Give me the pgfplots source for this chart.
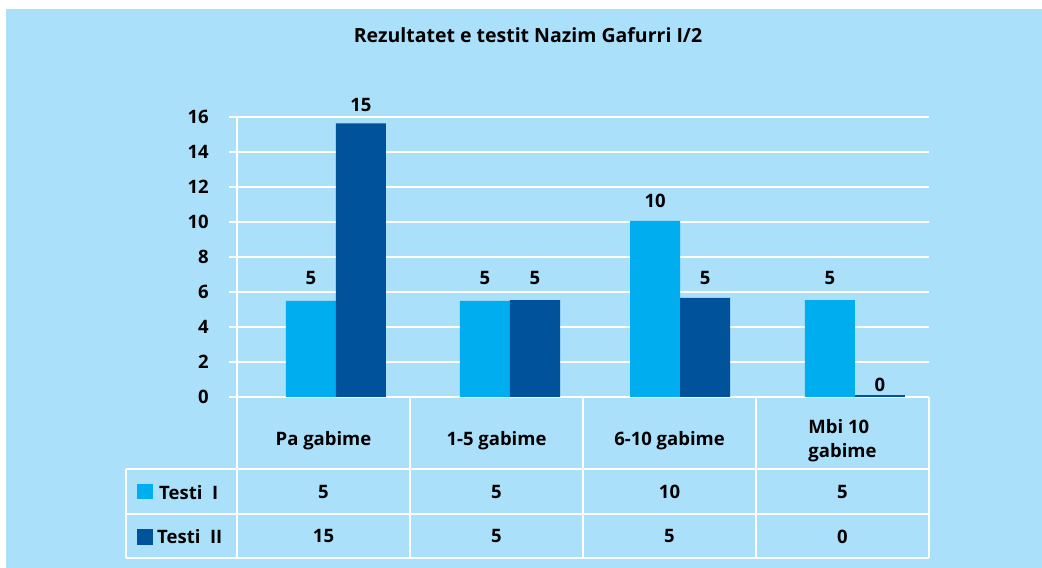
\documentclass[border=0pt]{standalone}
\usepackage{pgfplots}
\pgfplotsset{compat=1.18}
\usepackage{fontspec}
\setmainfont{Open Sans}[Ligatures=NoCommon]
\definecolor{bgblue}{RGB}{170,224,250}
\definecolor{lightbar}{RGB}{0,174,239}
\definecolor{darkbar}{RGB}{0,82,155}
\newcommand{\cf}{\fontsize{18.5bp}{24bp}\selectfont\bfseries}
\begin{document}
\begin{tikzpicture}[font=\cf]
\useasboundingbox (0,0) rectangle (1042bp,568bp);
\fill[bgblue] (6bp,0) rectangle (1042bp,559bp);
\node[anchor=base, inner sep=0pt, font=\fontsize{19.5bp}{24bp}\selectfont\bfseries] at (528bp,525bp) {Rezultatet e testit Nazim Gafurri I/2};
\begin{axis}[
  at={(237bp,171bp)}, anchor=south west,
  scale only axis, width=692bp, height=280bp,
  xmin=0, xmax=4, ymin=0, ymax=16,
  clip=false,
  axis lines*=left,
  axis line style={white, line width=1.6bp},
  ymajorgrids, grid style={white, line width=1.6bp},
  ytick={0,2,...,16},
  xtick={0.5,1.5,2.5,3.5},
  xticklabels={Pa gabime,1-5 gabime,6-10 gabime,{Mbi 10\\gabime}},
  xticklabel style={anchor=center, align=left, yshift=-36bp, inner sep=0pt},
  x tick style={draw=none},
  y tick style={white, line width=1.6bp},
  tick align=outside, major tick length=8bp,
  yticklabel style={anchor=east, inner sep=0pt, xshift=-20bp},
  /pgf/number format/assume math mode=true,
  ticklabel style={font=\cf},
]
% bars (drawn heights)
\addplot[ybar, bar width=50bp, bar shift=-25bp, fill=lightbar, draw=none]
  coordinates {(0.572,5.49) (1.578,5.49) (2.561,10.06) (3.572,5.54)};
\addplot[ybar, bar width=50bp, bar shift=25bp, fill=darkbar, draw=none]
  coordinates {(0.572,15.64) (1.578,5.54) (2.561,5.66) (3.572,0.1)};
% value labels above bars
\addplot[draw=none, mark=none, point meta=explicit symbolic, nodes near coords,
  every node near coord/.append style={anchor=base, xshift=-25bp, inner sep=0pt, text=black, font=\cf}]
  coordinates {(0.572,6.4)[5] (1.578,6.4)[5] (2.561,10.8)[10] (3.572,6.4)[5]};
\addplot[draw=none, mark=none, point meta=explicit symbolic, nodes near coords,
  every node near coord/.append style={anchor=base, xshift=25bp, inner sep=0pt, text=black, font=\cf}]
  coordinates {(0.572,16.29)[15] (1.578,6.4)[5] (2.561,6.4)[5] (3.572,0.34)[0]};
% data table values
\addplot[draw=none, mark=none, point meta=explicit symbolic, nodes near coords,
  every node near coord/.append style={anchor=center, inner sep=0pt, text=black, font=\cf}]
  coordinates {(0.5,-5.43)[5] (1.5,-5.43)[5] (2.5,-5.43)[10] (3.5,-5.43)[5]};
\addplot[draw=none, mark=none, point meta=explicit symbolic, nodes near coords,
  every node near coord/.append style={anchor=center, inner sep=0pt, text=black, font=\cf}]
  coordinates {(0.5,-7.97)[15] (1.5,-7.97)[5] (2.5,-7.97)[5] (3.5,-7.97)[0]};
\end{axis}
% data table grid
\begin{scope}[white, line width=1.6bp]
\draw (126bp,99bp) -- (929bp,99bp);
\draw (126bp,54bp) -- (929bp,54bp);
\draw (126bp,10bp) -- (929bp,10bp);
\draw (126bp,99bp) -- (126bp,10bp);
\draw (237bp,171bp) -- (237bp,10bp);
\draw (410bp,171bp) -- (410bp,10bp);
\draw (583bp,171bp) -- (583bp,10bp);
\draw (756bp,171bp) -- (756bp,10bp);
\draw (929bp,171bp) -- (929bp,10bp);
\end{scope}
% legend keys
\fill[lightbar] (137bp,69bp) rectangle (153bp,84bp);
\fill[darkbar] (137bp,23bp) rectangle (153bp,39bp);
\node[anchor=west, inner sep=0pt] at (159bp,75bp) {Testi\ \ I};
\node[anchor=west, inner sep=0pt] at (157bp,31bp) {Testi\ \ II};
\end{tikzpicture}
\end{document}
